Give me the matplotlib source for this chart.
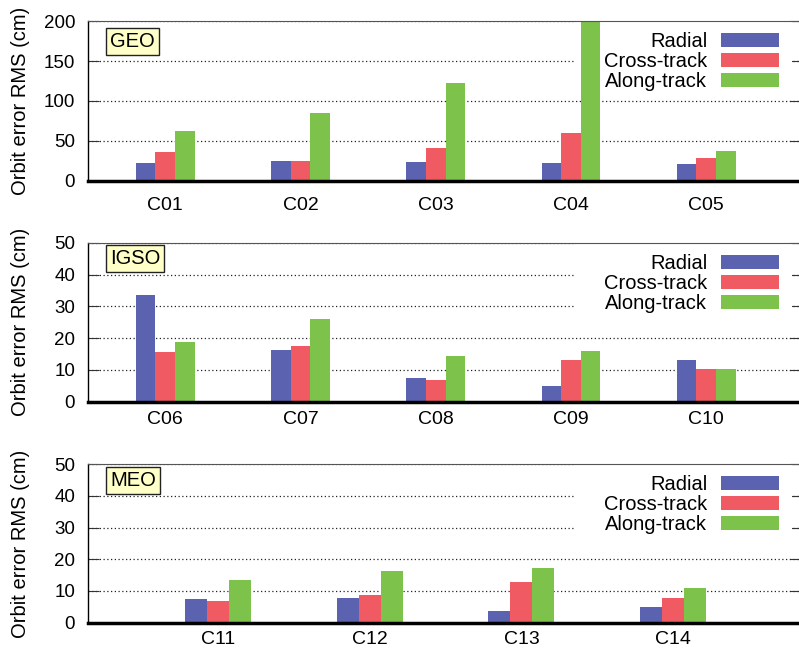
import matplotlib
matplotlib.use('Agg')
import matplotlib.pyplot as plt
from matplotlib.patches import Rectangle
import numpy as np

plt.rcParams['font.family'] = ['Liberation Sans', 'DejaVu Sans']

series_names = ['Radial', 'Cross-track', 'Along-track']
colors = ['#5b62b0', '#f05a63', '#7dc24b']

geo_sats = ['C01', 'C02', 'C03', 'C04', 'C05']
geo_radial = [21.8, 24.7, 23.5, 22.6, 21.0]
geo_cross = [36.4, 24.7, 41.4, 59.5, 28.9]
geo_along = [62.7, 84.5, 123.0, 200.0, 36.9]

igso_sats = ['C06', 'C07', 'C08', 'C09', 'C10']
igso_radial = [33.5, 16.3, 7.5, 4.9, 13.2]
igso_cross = [15.5, 17.6, 6.7, 13.0, 10.2]
igso_along = [18.7, 25.9, 14.4, 15.9, 10.2]

meo_sats = ['C11', 'C12', 'C13', 'C14']
meo_radial = [7.4, 7.8, 3.7, 5.0]
meo_cross = [6.8, 8.6, 12.8, 7.7]
meo_along = [13.5, 16.3, 17.1, 11.0]

panels = [
    dict(name='GEO', sats=geo_sats, data=[geo_radial, geo_cross, geo_along],
         ymax=200, yticks=[0, 50, 100, 150, 200], xlim=(-0.568, 4.70),
         rect=[0.1105, 0.7216, 0.892, 0.2456], boxy=0.875, xpad=11.5),
    dict(name='IGSO', sats=igso_sats, data=[igso_radial, igso_cross, igso_along],
         ymax=50, yticks=[0, 10, 20, 30, 40, 50], xlim=(-0.568, 4.70),
         rect=[0.1105, 0.3810, 0.892, 0.2450], boxy=0.899, xpad=7),
    dict(name='MEO', sats=meo_sats, data=[meo_radial, meo_cross, meo_along],
         ymax=50, yticks=[0, 10, 20, 30, 40, 50], xlim=(-0.855, 3.843),
         rect=[0.1105, 0.0405, 0.892, 0.2445], boxy=0.897, xpad=6),
]

fig = plt.figure(figsize=(7.99, 6.49), dpi=100)
w = 0.145
for p in panels:
    ax = fig.add_axes(p['rect'])
    x = np.arange(len(p['sats']))
    handles = []
    for k, vals in enumerate(p['data']):
        h = ax.bar(x + (k - 1) * w, vals, width=w, color=colors[k],
                   label=series_names[k], zorder=2, linewidth=0)
        handles.append(h)
    ax.set_xlim(*p['xlim'])
    ax.set_ylim(0, p['ymax'])
    ax.set_yticks(p['yticks'])
    ax.set_xticks(x)
    ax.set_xticklabels(p['sats'])
    ax.set_axisbelow(True)
    ax.yaxis.grid(True, linestyle=(0, (1, 2)), color='#222222', linewidth=0.9)
    ax.tick_params(axis='y', direction='in', length=8, width=0.8, left=True,
                   right=True, labelsize=13.5, pad=9.5, color='#333333')
    ax.tick_params(axis='x', length=0, labelsize=14, pad=p['xpad'])
    ax.spines['top'].set_linewidth(0.8)
    ax.spines['top'].set_color('#555555')
    ax.spines['left'].set_linewidth(1.0)
    ax.spines['bottom'].set_linewidth(2.5)
    ax.spines['right'].set_linewidth(1.0)
    ax.set_ylabel('Orbit error RMS (cm)', fontsize=14.5)
    ax.yaxis.set_label_coords(-0.082, 0.5)
    ax.add_patch(Rectangle((0.6815, 0.555), 0.3055, 0.445, transform=ax.transAxes,
                           facecolor='white', edgecolor='none', zorder=1.5))
    leg = ax.legend(handles=handles, loc='upper right', bbox_to_anchor=(0.969, 0.93),
                    borderpad=0, borderaxespad=0, markerfirst=False, handlelength=2.9,
                    handletextpad=0.65, labelspacing=0.05, frameon=False, fontsize=14.5)
    leg.set_zorder(5)
    ax.text(0.0305, p['boxy'], p['name'], transform=ax.transAxes, ha='left',
            va='center', fontsize=14.5, zorder=6,
            bbox=dict(boxstyle='square,pad=0.2', facecolor='#ffffc8',
                      edgecolor='#222222', linewidth=1))

fig.savefig('out.png', dpi=100)
